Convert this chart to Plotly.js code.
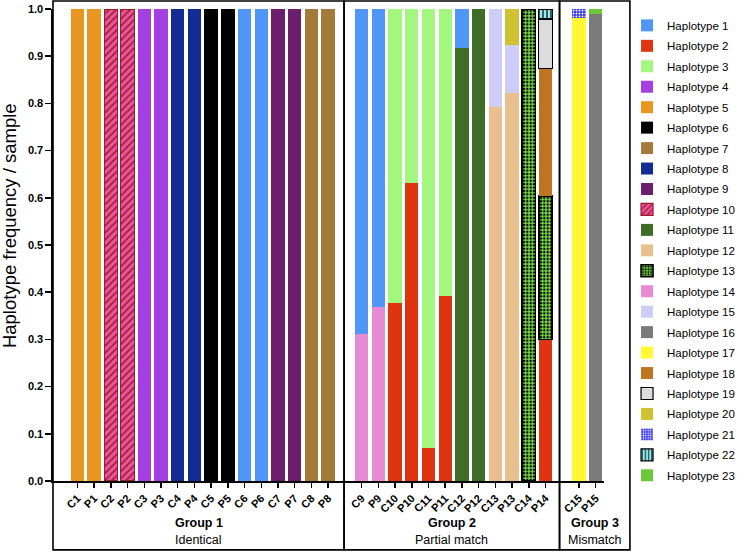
<!DOCTYPE html>
<html><head><meta charset="utf-8">
<script src="https://cdn.plot.ly/plotly-3.0.1.min.js"></script>
<style>html,body{margin:0;padding:0;background:#fff}#chart{width:737px;height:552px}</style>
</head><body><div id="chart"></div>
<script>
const _ = null;
// Samples per group
const group1Samples = ["C1","P1","C2","P2","C3","P3","C4","P4","C5","P5","C6","P6","C7","P7","C8","P8"];
const group2Samples = ["C9","P9","C10","P10","C11","P11","C12","P12","C13","P13","C14","P14"];
const group3Samples = ["C15","P15"];
const groupTitles = ["Group 1","Group 2","Group 3"];
const groupSubtitles = ["Identical","Partial match","Mismatch"];

// Haplotype frequency per sample (order: group1 | group2 | group3)
const H1  = [_,_,_,_,_,_,_,_,_,_,1,1,_,_,_,_,  0.689,0.631,_,_,_,_,0.083,_,_,_,_,_,  _,_];
const H2  = [_,_,_,_,_,_,_,_,_,_,_,_,_,_,_,_,  _,_,0.377,0.632,0.069,0.392,_,_,_,_,_,0.300,  _,_];
const H3  = [_,_,_,_,_,_,_,_,_,_,_,_,_,_,_,_,  _,_,0.623,0.368,0.931,0.608,_,_,_,_,_,_,  _,_];
const H4  = [_,_,_,_,1,1,_,_,_,_,_,_,_,_,_,_,  _,_,_,_,_,_,_,_,_,_,_,_,  _,_];
const H5  = [1,1,_,_,_,_,_,_,_,_,_,_,_,_,_,_,  _,_,_,_,_,_,_,_,_,_,_,_,  _,_];
const H6  = [_,_,_,_,_,_,_,_,1,1,_,_,_,_,_,_,  _,_,_,_,_,_,_,_,_,_,_,_,  _,_];
const H7  = [_,_,_,_,_,_,_,_,_,_,_,_,_,_,1,1,  _,_,_,_,_,_,_,_,_,_,_,_,  _,_];
const H8  = [_,_,_,_,_,_,1,1,_,_,_,_,_,_,_,_,  _,_,_,_,_,_,_,_,_,_,_,_,  _,_];
const H9  = [_,_,_,_,_,_,_,_,_,_,_,_,1,1,_,_,  _,_,_,_,_,_,_,_,_,_,_,_,  _,_];
const H10 = [_,_,1,1,_,_,_,_,_,_,_,_,_,_,_,_,  _,_,_,_,_,_,_,_,_,_,_,_,  _,_];
const H11 = [_,_,_,_,_,_,_,_,_,_,_,_,_,_,_,_,  _,_,_,_,_,_,0.917,1,_,_,_,_,  _,_];
const H12 = [_,_,_,_,_,_,_,_,_,_,_,_,_,_,_,_,  _,_,_,_,_,_,_,_,0.792,0.821,_,_,  _,_];
const H13 = [_,_,_,_,_,_,_,_,_,_,_,_,_,_,_,_,  _,_,_,_,_,_,_,_,_,_,1,0.304,  _,_];
const H14 = [_,_,_,_,_,_,_,_,_,_,_,_,_,_,_,_,  0.311,0.369,_,_,_,_,_,_,_,_,_,_,  _,_];
const H15 = [_,_,_,_,_,_,_,_,_,_,_,_,_,_,_,_,  _,_,_,_,_,_,_,_,0.208,0.103,_,_,  _,_];
const H16 = [_,_,_,_,_,_,_,_,_,_,_,_,_,_,_,_,  _,_,_,_,_,_,_,_,_,_,_,_,  _,0.989];
const H17 = [_,_,_,_,_,_,_,_,_,_,_,_,_,_,_,_,  _,_,_,_,_,_,_,_,_,_,_,_,  0.982,_];
const H18 = [_,_,_,_,_,_,_,_,_,_,_,_,_,_,_,_,  _,_,_,_,_,_,_,_,_,_,_,0.270,  _,_];
const H19 = [_,_,_,_,_,_,_,_,_,_,_,_,_,_,_,_,  _,_,_,_,_,_,_,_,_,_,_,0.105,  _,_];
const H20 = [_,_,_,_,_,_,_,_,_,_,_,_,_,_,_,_,  _,_,_,_,_,_,_,_,_,0.076,_,_,  _,_];
const H21 = [_,_,_,_,_,_,_,_,_,_,_,_,_,_,_,_,  _,_,_,_,_,_,_,_,_,_,_,_,  0.018,_];
const H22 = [_,_,_,_,_,_,_,_,_,_,_,_,_,_,_,_,  _,_,_,_,_,_,_,_,_,_,_,0.021,  _,_];
const H23 = [_,_,_,_,_,_,_,_,_,_,_,_,_,_,_,_,  _,_,_,_,_,_,_,_,_,_,_,_,  _,0.011];
const haplotypeValues = [H1,H2,H3,H4,H5,H6,H7,H8,H9,H10,H11,H12,H13,H14,H15,H16,H17,H18,H19,H20,H21,H22,H23];

// Styles
const colors = ["#4F96F8","#DE3410","#A3F77E","#A53FE2","#E8961F","#000000","#A47A3A","#142B93","#6A1E6B",
  "#E8559C","#3E6D25","#E8C08E","#7AE04A","#E68AD4","#CECDF8","#7A7A7A","#FFF833","#BE7421","#DCDCDC",
  "#CFC232","#3A3AEC","#8EEEF0","#6BC83B"];
const patterns = {
  10:{shape:"/",fgcolor:"#9B1A2C",bgcolor:"#E8559C",size:5,solidity:0.3},
  13:{shape:".",fgcolor:"#000000",bgcolor:"#7AE04A",size:3.4,solidity:0.45},
  21:{shape:".",fgcolor:"#FFFFFF",bgcolor:"#3A3AEC",size:3,solidity:0.3},
  22:{shape:"|",fgcolor:"#000000",bgcolor:"#8EEEF0",size:4,solidity:0.3}};
const borders = {10:["#9B1A2C",1.2],13:["#000000",1.6],19:["#000000",1.2],22:["#000000",1.2]};
const stackOrder = [14,11,2,3,12,15,20,13,18,19,22,17,21,16,23,1,4,5,6,7,8,9,10];

// positions: consecutive within a group, one empty slot between groups
const allSamples = [], xPos = [];
let pos = 0;
[group1Samples, group2Samples, group3Samples].forEach((g, gi) => {
  if (gi > 0) pos += 1;
  g.forEach(s => { allSamples.push(s); xPos.push(pos); pos += 1; });
});

const traces = stackOrder.map(h => {
  const b = borders[h];
  const m = {color: colors[h-1], line: {color: b ? b[0] : colors[h-1], width: b ? b[1] : 0}};
  if (patterns[h]) m.pattern = patterns[h];
  return {type:"bar", name:"Haplotype " + h, x: xPos, y: haplotypeValues[h-1],
    marker: m, legendrank: h, legendgroup: "h" + h, hoverinfo:"name+y"};
});

// layout geometry
const xMin = -1.46, xMax = 31.5;
const toPaper = u => (u - xMin) / (xMax - xMin);
const boxTop = 1.017, boxBottom = -0.146;
const groupEdges = [xMin, 15.95, 28.84, 33.05];
const shapes = [], annotations = [];
for (let i = 0; i < 3; i++) {
  shapes.push({type:"rect", xref:"paper", yref:"paper", x0: toPaper(groupEdges[i]), x1: toPaper(groupEdges[i+1]),
    y0: boxBottom, y1: boxTop, line:{color:"#000", width:1.6}, layer:"below"});
  const cx = (toPaper(groupEdges[i]) + toPaper(groupEdges[i+1])) / 2;
  annotations.push({xref:"paper", yref:"paper", x: cx, xanchor:"center", y: -0.088, yanchor:"middle",
    text:"<b>"+groupTitles[i]+"</b>", showarrow:false, font:{size:12.5, color:"#000"}});
  annotations.push({xref:"paper", yref:"paper", x: cx, xanchor:"center", y: -0.124, yanchor:"middle",
    text: groupSubtitles[i], showarrow:false, font:{size:12.5, color:"#000"}});
}
annotations.push({xref:"paper", yref:"paper", x: -0.08, xanchor:"center", y: 0.542, yanchor:"middle",
  text:"Haplotype frequency / sample", textangle:-90, showarrow:false, font:{size:18.5, color:"#000"}});

const layout = {
  width:737, height:552, margin:{l:53, r:133, t:9, b:71, autoexpand:false},
  font:{family:"Liberation Sans, Arial, sans-serif", color:"#000"},
  barmode:"stack", bargap:0.2, showlegend:true,
  paper_bgcolor:"#fff", plot_bgcolor:"#fff",
  xaxis:{range:[xMin, xMax], tickvals:xPos, ticktext:allSamples, tickangle:-45, automargin:false,
    showline:true, linecolor:"#000", linewidth:1.6, ticks:"outside", ticklen:5, tickwidth:1.5, tickcolor:"#000",
    showgrid:false, zeroline:false, tickfont:{size:11, weight:"bold"}, fixedrange:true},
  yaxis:{range:[0,1], dtick:0.1, tickformat:".1f", showline:true, linecolor:"#000", linewidth:1.6, automargin:false,
    ticks:"outside", ticklen:6, tickwidth:1.5, tickcolor:"#000", showgrid:false, zeroline:false,
    tickfont:{size:11, weight:"bold"}, fixedrange:true},
  legend:{x:1.0418, xanchor:"left", y:0.996, yanchor:"top", traceorder:"grouped", tracegroupgap:1.45,
    maxheight:530, font:{size:11.5}, bgcolor:"rgba(0,0,0,0)"},
  shapes: shapes, annotations: annotations
};
Plotly.newPlot("chart", traces, layout, {displayModeBar:false, staticPlot:true});
</script></body></html>
